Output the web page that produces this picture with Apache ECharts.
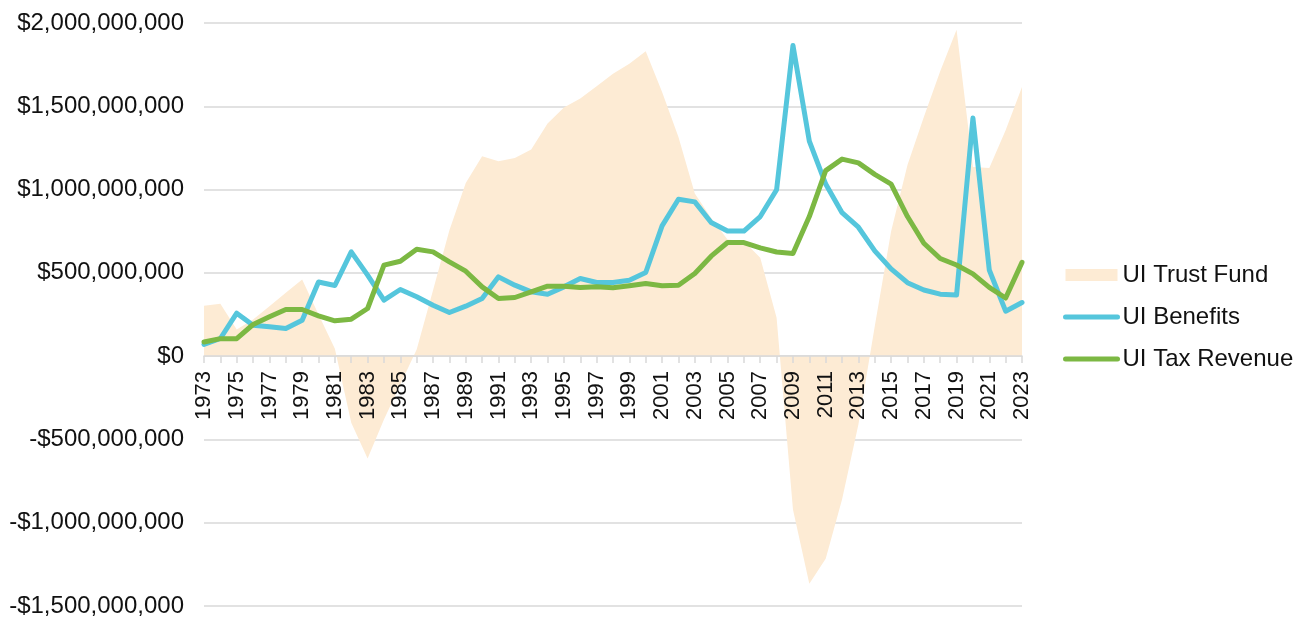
<!DOCTYPE html>
<html>
<head>
<meta charset="utf-8">
<title>UI Trust Fund</title>
<script src="https://cdn.jsdelivr.net/npm/echarts@6/dist/echarts.min.js"></script>
<style>
  html, body { margin: 0; padding: 0; background: #fff; }
  #chart { width: 1303px; height: 618px; }
</style>
</head>
<body>
<div id="chart"></div>
<script>
// years on the x axis
var years = [];
for (var y = 1973; y <= 2023; y++) years.push(String(y));

// values in millions of dollars
var trustFund = [
  302, 314, 160, 220, 300, 380, 460, 250, 45, -400,
  -615, -380, -170, 40, 396, 756, 1040, 1200, 1170, 1190,
  1240, 1396, 1492, 1546, 1620, 1696, 1756, 1830, 1586, 1316,
  976, 830, 700, 690, 590, 230, -920, -1367, -1217, -861,
  -410, 180, 750, 1148, 1435, 1711, 1960, 1136, 1130, 1356,
  1616
];
var benefits = [
  70, 106, 258, 186, 176, 166, 216, 445, 424, 626,
  486, 336, 400, 356, 306, 262, 300, 346, 476, 426,
  386, 372, 416, 466, 442, 442, 456, 502, 782, 942,
  926, 802, 751, 751, 838, 999, 1865, 1291, 1033, 861,
  774, 632, 524, 441, 397, 372, 367, 1429, 517, 270,
  322
];
var taxRevenue = [
  85, 105, 105, 190, 236, 280, 280, 242, 212, 222,
  286, 546, 570, 642, 626, 566, 510, 416, 346, 352,
  386, 420, 420, 412, 416, 410, 422, 436, 422, 426,
  496, 600, 682, 682, 650, 625, 616, 838, 1114, 1183,
  1160, 1091, 1033, 838, 678, 586, 547, 494, 413, 349,
  563
];

var FONT = 'Liberation Sans, Arial, sans-serif';

// $1,500,000,000 style labels
function money(v) {
  var n = Math.round(Math.abs(v) * 1000000);
  var s = n.toString().replace(/\B(?=(\d{3})+(?!\d))/g, ',');
  return (v < 0 ? '-$' : '$') + s;
}

var chart = echarts.init(document.getElementById('chart'));

// the year axis sits on $0: 2000 at the top, -1500 at the bottom,
// so zero is 1500/3500 of the plot height above the bottom edge
var plotTop = 23, plotBottom = 12, plotH = 618 - plotTop - plotBottom;
var zeroOffset = -Math.round(plotH * 1500 / 3500);

var option = {
  animation: false,
  grid: { left: 204, right: 281, top: plotTop, bottom: plotBottom, outerBoundsMode: 'none' },
  legend: {
    orient: 'vertical',
    left: 1058,
    top: 258,
    itemWidth: 52,
    itemHeight: 12,
    itemGap: 18,
    textStyle: { fontFamily: FONT, fontSize: 24, color: '#111' },
    data: [
      { name: 'UI Trust Fund', icon: 'rect' },
      { name: 'UI Benefits', itemStyle: { opacity: 0 }, lineStyle: { width: 5, cap: 'round' } },
      { name: 'UI Tax Revenue', itemStyle: { opacity: 0 }, lineStyle: { width: 5, cap: 'round' } }
    ]
  },
  xAxis: {
    type: 'category',
    data: years,
    boundaryGap: false,
    position: 'bottom',
    offset: zeroOffset,
    axisLine: { onZero: false, lineStyle: { color: '#d9d9d9', width: 1.5 } },
    axisTick: { show: true, interval: 0, length: 7, lineStyle: { color: '#d9d9d9', width: 1.5 } },
    axisLabel: {
      interval: 1,
      rotate: 90,
      margin: 15,
      fontFamily: FONT,
      fontSize: 22,
      color: '#111'
    },
    splitLine: { show: false },
    z: 5
  },
  yAxis: {
    type: 'value',
    min: -1500,
    max: 2000,
    interval: 500,
    axisLine: { show: false },
    axisTick: { show: false },
    axisLabel: {
      margin: 20,
      fontFamily: FONT,
      fontSize: 24,
      color: '#111',
      formatter: money
    },
    splitLine: { lineStyle: { color: '#d9d9d9', width: 1.5 } }
  },
  series: [
    {
      name: 'UI Trust Fund',
      type: 'line',
      data: trustFund,
      symbol: 'none',
      color: '#fdebd4',
      lineStyle: { width: 0 },
      areaStyle: { color: '#fdebd4', opacity: 1, origin: 0 },
      z: 1
    },
    {
      name: 'UI Benefits',
      type: 'line',
      data: benefits,
      symbol: 'none',
      color: '#55c6dc',
      lineStyle: { width: 5, cap: 'round', join: 'round' },
      z: 3
    },
    {
      name: 'UI Tax Revenue',
      type: 'line',
      data: taxRevenue,
      symbol: 'none',
      color: '#7cb843',
      lineStyle: { width: 5, cap: 'round', join: 'round' },
      z: 4
    }
  ]
};

chart.setOption(option);
</script>
</body>
</html>
